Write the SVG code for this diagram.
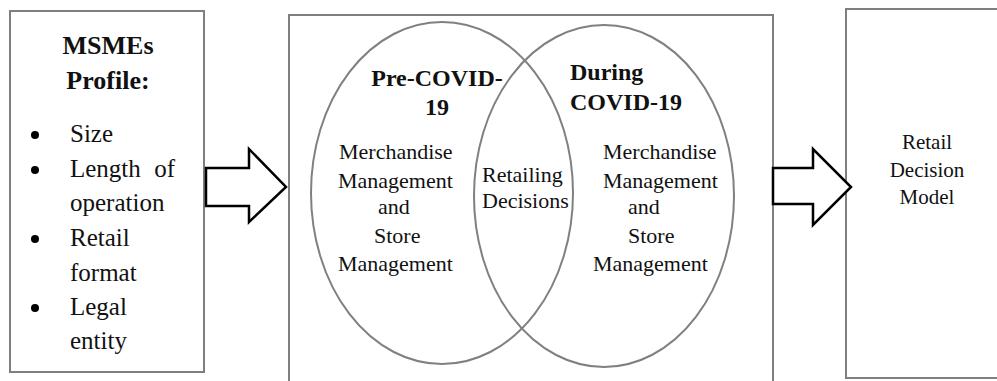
<svg xmlns="http://www.w3.org/2000/svg" width="997" height="381" viewBox="0 0 997 381" font-family="'Liberation Serif', 'DejaVu Serif', 'Times New Roman', serif">
<style>
.box{fill:#fff;stroke:#7f7f7f;stroke-width:2}
.ell{fill:none;stroke:#808080;stroke-width:2}
.arr{fill:#fff;stroke:#000;stroke-width:2.5;stroke-linejoin:miter}
text{fill:#111}
.b{font-weight:bold}
.l{font-size:25px}
.m{font-size:22px}
.h{font-size:24px}
.r{font-size:21px}
</style>
<rect width="997" height="381" fill="#fff"/>
<g id="msmes">
<rect class="box" x="10" y="11" width="194" height="361"/>
<text class="b l" x="108" y="54" text-anchor="middle" style="font-size:26px">MSMEs</text>
<text class="b l" x="108" y="89" text-anchor="middle" style="font-size:26px">Profile:</text>
<circle cx="35" cy="135" r="4" fill="#000"/>
<circle cx="35" cy="170" r="4" fill="#000"/>
<circle cx="35" cy="239" r="4" fill="#000"/>
<circle cx="35" cy="308" r="4" fill="#000"/>
<text class="l" x="70" y="142">Size</text>
<text class="l" x="70" y="177">Length</text>
<text class="l" x="175" y="177" text-anchor="end">of</text>
<text class="l" x="70" y="211">operation</text>
<text class="l" x="70" y="246">Retail</text>
<text class="l" x="70" y="281">format</text>
<text class="l" x="70" y="315">Legal</text>
<text class="l" x="70" y="349">entity</text>
</g>
<g id="venn">
<rect class="box" x="289" y="15" width="484" height="380"/>
<ellipse class="ell" cx="442" cy="193" rx="131" ry="171"/>
<ellipse class="ell" cx="604" cy="196" rx="130" ry="171"/>
<text class="b h" x="437" y="86" text-anchor="middle">Pre-COVID-</text>
<text class="b h" x="437" y="115" text-anchor="middle">19</text>
<text class="b h" x="570" y="80">During</text>
<text class="b h" x="570" y="110">COVID-19</text>
<text class="m" x="339" y="159">Merchandise</text>
<text class="m" x="338" y="188">Management</text>
<text class="m" x="378" y="214">and</text>
<text class="m" x="374" y="243">Store</text>
<text class="m" x="338" y="271">Management</text>
<text class="m" x="482" y="182">Retailing</text>
<text class="m" x="482" y="208">Decisions</text>
<text class="m" x="603" y="159">Merchandise</text>
<text class="m" x="603" y="188">Management</text>
<text class="m" x="628" y="214">and</text>
<text class="m" x="628" y="243">Store</text>
<text class="m" x="593" y="271">Management</text>
</g>
<g id="model">
<rect class="box" x="846" y="9" width="160" height="369"/>
<text class="r" x="927" y="149" text-anchor="middle">Retail</text>
<text class="r" x="927" y="177" text-anchor="middle">Decision</text>
<text class="r" x="927" y="204" text-anchor="middle">Model</text>
</g>
<g id="connectors">
<path class="arr" d="M206,168 H249 V149 L286,187 L249,222 V206 H206 Z"/>
<path class="arr" d="M773,168 H813 V149 L851,187 L813,225 V204 H773 Z"/>
</g>
</svg>
